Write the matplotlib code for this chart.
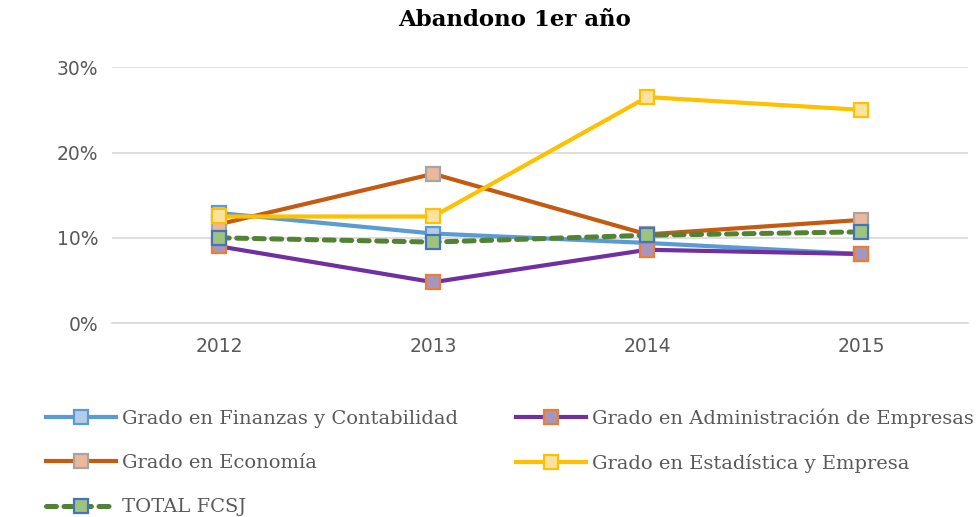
import matplotlib.pyplot as plt
import matplotlib.ticker as mticker

# ==============================
# Data
# ==============================

years = ["2012", "2013", "2014", "2015"]

finanzas = [0.129, 0.105, 0.094, 0.081]
economia = [0.116, 0.175, 0.104, 0.121]
administracion = [0.090, 0.048, 0.086, 0.081]
estadistica = [0.125, 0.125, 0.265, 0.250]
total_fcsj = [0.100, 0.095, 0.103, 0.107]

labels = [
    "Grado en Finanzas y Contabilidad",
    "Grado en Economía",
    "TOTAL FCSJ",
    "Grado en Administración de Empresas",
    "Grado en Estadística y Empresa",
]

# ==============================
# Figure
# ==============================

fig = plt.figure(figsize=(9.76, 5.17), dpi=100)
ax = fig.add_axes([0.115, 0.375, 0.877, 0.495])

x = range(len(years))
lw = 3
ms = 10

styles = [
    # values, line colour, marker face, marker edge, linestyle, line width, zorder
    (finanzas, "#5B9BD5", "#B4CDE6", "#5B9BD5", "-", lw, 3),
    (economia, "#C55A11", "#EDB79C", "#A5A5A5", "-", lw, 3),
    (total_fcsj, "#548235", "#9CC47C", "#4472C4", (0, (2.0, 1.5)), 3.6, 4),
    (administracion, "#7030A0", "#A795BE", "#ED7D31", "-", lw, 3),
    (estadistica, "#FFC000", "#FCE2A0", "#FFC000", "-", lw, 3),
]

handles = []
for (vals, color, face, edge, ls, width, z), label in zip(styles, labels):
    (h,) = ax.plot(
        x, vals, color=color, lw=width, linestyle=ls, dash_capstyle="round",
        marker="s", markersize=ms, markerfacecolor=face,
        markeredgecolor=edge, markeredgewidth=1.6, label=label, zorder=z,
    )
    handles.append(h)

ax.set_xlim(-0.5, 3.5)
ax.set_ylim(0, 0.30)
ax.set_xticks(list(x))
ax.set_xticklabels(years)
ax.set_yticks([0, 0.1, 0.2, 0.3])
ax.yaxis.set_major_formatter(mticker.PercentFormatter(1.0, decimals=0))

ax.grid(axis="y", color="#D9D9D9", lw=1.2)
ax.set_axisbelow(True)
for side in ["top", "right", "left"]:
    ax.spines[side].set_visible(False)
ax.spines["bottom"].set_color("#D9D9D9")
ax.spines["bottom"].set_linewidth(1.2)
ax.tick_params(axis="both", length=0, labelsize=13.5, colors="#595959", pad=10)

fig.text(0.527, 0.961, "Abandono 1er año", ha="center", va="center",
         fontsize=16.5, fontweight="heavy", family="DejaVu Serif", color="black")

fig.legend(
    handles=handles, labels=labels, ncol=2, loc="upper left",
    bbox_to_anchor=(0.047, 0.210), frameon=False,
    prop={"family": "DejaVu Serif", "size": 14},
    labelcolor="#595959", handlelength=3.6, handletextpad=0.3,
    columnspacing=3.0, labelspacing=1.35, borderaxespad=0, borderpad=0,
)

fig.savefig("out.png", dpi=100)
